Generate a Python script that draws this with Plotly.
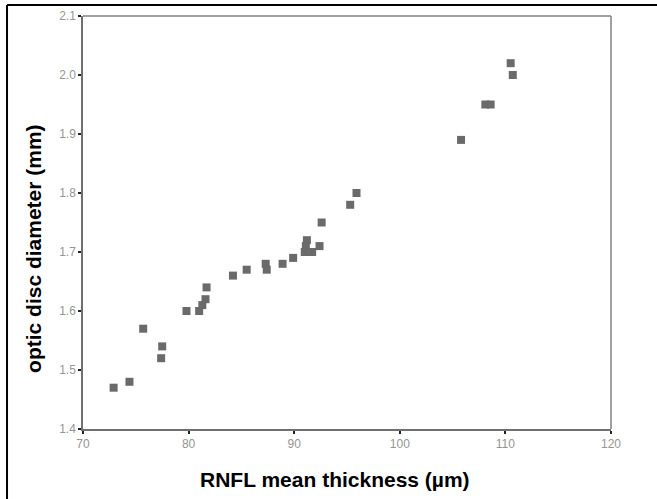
import plotly.graph_objects as go

rnfl = [72.9, 74.4, 75.7, 77.5, 77.4, 79.8, 81.0, 81.3, 81.6, 81.7,
        84.2, 85.5, 87.3, 87.4, 88.9, 89.9, 91.0, 91.1, 91.2, 91.7,
        92.4, 92.6, 95.3, 95.9, 105.8, 108.1, 108.6, 110.5, 110.7]
disc = [1.47, 1.48, 1.57, 1.54, 1.52, 1.60, 1.60, 1.61, 1.62, 1.64,
        1.66, 1.67, 1.68, 1.67, 1.68, 1.69, 1.70, 1.71, 1.72, 1.70,
        1.71, 1.75, 1.78, 1.80, 1.89, 1.95, 1.95, 2.02, 2.00]

x_ticks = [70, 80, 90, 100, 110, 120]
y_ticks = [1.4, 1.5, 1.6, 1.7, 1.8, 1.9, 2.0, 2.1]

FONT = "Liberation Sans, Arial, sans-serif"

fig = go.Figure()
fig.add_trace(go.Scatter(
    x=rnfl, y=disc, mode="markers",
    marker=dict(symbol="square", size=8, color="#6a6a6a"),
    showlegend=False, hoverinfo="x+y",
))

axis_common = dict(
    showgrid=False, zeroline=False, showline=True, mirror=False,
    linecolor="#707070", linewidth=1.5, automargin=False,
    ticks="outside", ticklen=3, tickwidth=2, tickcolor="#222222",
    tickfont=dict(family=FONT, size=12, color="#959595"),
)

fig.update_layout(
    width=657, height=499,
    margin=dict(l=83, r=46, t=16, b=70),
    paper_bgcolor="white", plot_bgcolor="white",
    xaxis=dict(range=[70, 120], tickvals=x_ticks, ticktext=[str(v) for v in x_ticks], **axis_common),
    yaxis=dict(range=[1.4, 2.1], tickvals=y_ticks, ticktext=[f"{v:.1f}" for v in y_ticks], **axis_common),
    shapes=[
        dict(type="line", xref="paper", yref="paper", x0=0, x1=1, y0=1, y1=1,
             line=dict(color="#a0a0a0", width=2)),
        dict(type="line", xref="paper", yref="paper", x0=1, x1=1, y0=0, y1=1,
             line=dict(color="#808080", width=1.5)),
        # outer frame (left and top edges visible)
        dict(type="line", xref="paper", yref="paper", x0=-0.1439, x1=1.2, y0=1.0266, y1=1.0266,
             line=dict(color="black", width=2)),
        dict(type="line", xref="paper", yref="paper", x0=-0.1439, x1=-0.1439, y0=-0.2, y1=1.0266,
             line=dict(color="black", width=2)),
    ],
    annotations=[
        dict(text="<b>RNFL mean thickness (µm)</b>", xref="paper", yref="paper",
             x=0.477, y=-0.123, xanchor="center", yanchor="middle", showarrow=False,
             font=dict(family=FONT, size=21, color="black")),
        dict(text="<b>optic disc diameter (mm)</b>", xref="paper", yref="paper",
             x=-0.095, y=0.438, xanchor="center", yanchor="middle", showarrow=False, textangle=-90,
             font=dict(family=FONT, size=21, color="black")),
    ],
)

fig.write_html("out.html", config={"displayModeBar": False},
               post_script="document.body.style.margin='0';")
